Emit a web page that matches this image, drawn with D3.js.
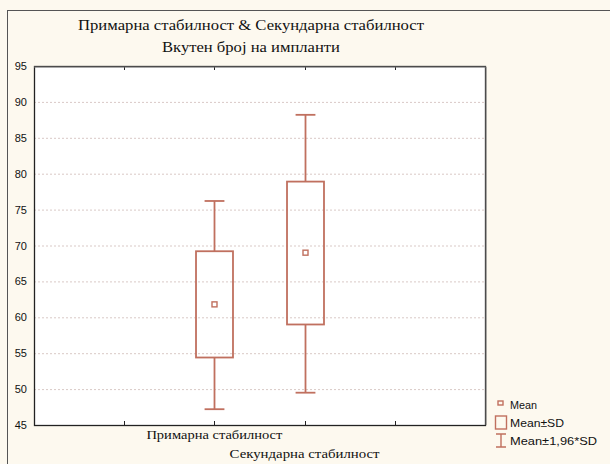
<!DOCTYPE html>
<html>
<head>
<meta charset="utf-8">
<script src="https://cdn.jsdelivr.net/npm/d3@7"></script>
<style>
  body { margin: 0; background: #fdf9ef; }
  svg { display: block; }
</style>
</head>
<body>
<div class="chart"></div>
<script>
// data
const categories = ["Примарна стабилност", "Секундарна стабилност"];
const means = [61.8, 69.0];
const sdLow = [54.4, 59.0];
const sdHigh = [69.2, 78.9];
const ciLow = [47.2, 49.5];
const ciHigh = [76.2, 88.2];
const yTicks = [45, 50, 55, 60, 65, 70, 75, 80, 85, 90, 95];
const titleLines = ["Примарна стабилност & Секундарна стабилност", "Вкутен број на импланти"];
const legendLabels = ["Mean", "Mean±SD", "Mean±1,96*SD"];

// setup chart
const width = 610;
const height = 464;
const plot = { left: 34, right: 485, top: 66, bottom: 425 };
const boxColor = "#c0705f";

const svg = d3.select(".chart")
   .append("svg")
   .attr("width", width)
   .attr("height", height);

// outer frame
svg.append("rect")
   .attr("x", 7.5).attr("y", 10.5)
   .attr("width", width).attr("height", height)
   .attr("fill", "#fdf9ef")
   .attr("stroke", "#555");

// titles
const titleWidths = [346, 178];
svg.selectAll(".title")
   .data(titleLines)
   .enter()
   .append("text")
   .attr("class", "title")
   .attr("x", 251)
   .attr("y", (d, i) => 30 + i * 22)
   .attr("text-anchor", "middle")
   .attr("font-family", "Liberation Serif")
   .attr("font-size", 15)
   .attr("textLength", (d, i) => titleWidths[i])
   .attr("lengthAdjust", "spacingAndGlyphs")
   .attr("fill", "#111")
   .text((d) => d);

// scales
const yScale = d3.scaleLinear().domain([45, 95]).range([plot.bottom, plot.top]);
const xScale = d3.scalePoint().domain(categories).range([plot.left, plot.right]).padding(2);
const step = xScale.step();
const xTicks = d3.range(1, 5).map((k) => plot.left + k * step);

// plot background
svg.append("rect")
   .attr("x", plot.left).attr("y", plot.top)
   .attr("width", plot.right - plot.left)
   .attr("height", plot.bottom - plot.top)
   .attr("fill", "#fff");

// grid lines
svg.append("g")
   .selectAll("line")
   .data(yTicks.slice(1, -1))
   .enter()
   .append("line")
   .attr("x1", plot.left).attr("x2", plot.right)
   .attr("y1", (d) => yScale(d) + 0.5).attr("y2", (d) => yScale(d) + 0.5)
   .attr("stroke", "#d9c9c6")
   .attr("stroke-dasharray", "2,2");

// y axis labels
const yAxis = d3.axisLeft(yScale).tickValues(yTicks).tickSize(0).tickPadding(7);
const gy = svg.append("g")
   .attr("transform", `translate(${plot.left}, 0)`)
   .call(yAxis);
gy.select(".domain").remove();
gy.selectAll("text")
   .attr("font-family", "Liberation Sans")
   .attr("font-size", 11)
   .attr("fill", "#111");

// inner ticks top and bottom
const tickGroup = svg.append("g").attr("stroke", "#222");
tickGroup.selectAll(".tb")
   .data(xTicks)
   .enter()
   .append("line")
   .attr("x1", (d) => Math.round(d) + 0.5).attr("x2", (d) => Math.round(d) + 0.5)
   .attr("y1", plot.bottom).attr("y2", plot.bottom - 4);
tickGroup.selectAll(".tt")
   .data(xTicks)
   .enter()
   .append("line")
   .attr("x1", (d) => Math.round(d) + 0.5).attr("x2", (d) => Math.round(d) + 0.5)
   .attr("y1", plot.top).attr("y2", plot.top + 4);

// x labels
const labelWidths = [136, 150];
svg.selectAll(".xlabel")
   .data(categories)
   .enter()
   .append("text")
   .attr("class", "xlabel")
   .attr("x", (d) => xScale(d))
   .attr("y", (d, i) => 439 + i * 19)
   .attr("text-anchor", "middle")
   .attr("font-family", "Liberation Serif")
   .attr("font-size", 12.5)
   .attr("textLength", (d, i) => labelWidths[i])
   .attr("lengthAdjust", "spacingAndGlyphs")
   .attr("fill", "#111")
   .text((d) => d);

// boxes
const boxW = step * 0.41;
const capW = step * 0.22;
const items = categories.map((c, i) => ({
   cat: c, mean: means[i], lo: sdLow[i], hi: sdHigh[i], wlo: ciLow[i], whi: ciHigh[i]
}));

const g = svg.append("g")
   .attr("stroke", boxColor)
   .attr("stroke-width", 1.8)
   .attr("fill", "none");

items.forEach((d) => {
   const cx = Math.round(xScale(d.cat)) + 0.5;
   g.append("line")
      .attr("x1", cx).attr("x2", cx)
      .attr("y1", yScale(d.whi)).attr("y2", yScale(d.hi));
   g.append("line")
      .attr("x1", cx).attr("x2", cx)
      .attr("y1", yScale(d.lo)).attr("y2", yScale(d.wlo));
   g.append("line")
      .attr("x1", cx - capW / 2).attr("x2", cx + capW / 2)
      .attr("y1", yScale(d.whi)).attr("y2", yScale(d.whi));
   g.append("line")
      .attr("x1", cx - capW / 2).attr("x2", cx + capW / 2)
      .attr("y1", yScale(d.wlo)).attr("y2", yScale(d.wlo));
   g.append("rect")
      .attr("x", cx - boxW / 2).attr("width", boxW)
      .attr("y", yScale(d.hi)).attr("height", yScale(d.lo) - yScale(d.hi));
   g.append("rect")
      .attr("x", cx - 2.5).attr("width", 5)
      .attr("y", yScale(d.mean) - 2.5).attr("height", 5)
      .attr("stroke-width", 1.4);
});

// plot frame
svg.append("rect")
   .attr("x", plot.left + 0.5).attr("y", plot.top + 0.5)
   .attr("width", plot.right - plot.left)
   .attr("height", plot.bottom - plot.top)
   .attr("fill", "none")
   .attr("stroke", "#222")
   .attr("stroke-width", 1.3);
svg.append("path")
   .attr("d", `M${plot.left},${plot.top + 1}H${plot.right + 1}V${plot.bottom}`)
   .attr("fill", "none")
   .attr("stroke", "#777")
   .attr("stroke-width", 1);

// legend
const legend = svg.append("g").attr("transform", "translate(495, 0)");
const legendRows = [405, 423, 441];
const legendWidths = [27, 54, 87];
legend.append("rect")
   .attr("x", 3).attr("y", legendRows[0] - 4).attr("width", 5).attr("height", 4)
   .attr("fill", "none").attr("stroke", boxColor).attr("stroke-width", 1.4);
legend.append("rect")
   .attr("x", 0.5).attr("y", legendRows[1] - 7).attr("width", 11).attr("height", 13)
   .attr("fill", "none").attr("stroke", boxColor).attr("stroke-width", 1.4);
legend.append("path")
   .attr("d", `M1,${legendRows[2] - 7}H11M6,${legendRows[2] - 7}V${legendRows[2] + 6}M1,${legendRows[2] + 6}H11`)
   .attr("fill", "none").attr("stroke", boxColor).attr("stroke-width", 1.4);
legend.selectAll("text")
   .data(legendLabels)
   .enter()
   .append("text")
   .attr("x", 15)
   .attr("y", (d, i) => legendRows[i] + 4)
   .attr("font-family", "Liberation Sans")
   .attr("font-size", 11)
   .attr("textLength", (d, i) => legendWidths[i])
   .attr("lengthAdjust", "spacingAndGlyphs")
   .attr("fill", "#111")
   .text((d) => d);
</script>
</body>
</html>
